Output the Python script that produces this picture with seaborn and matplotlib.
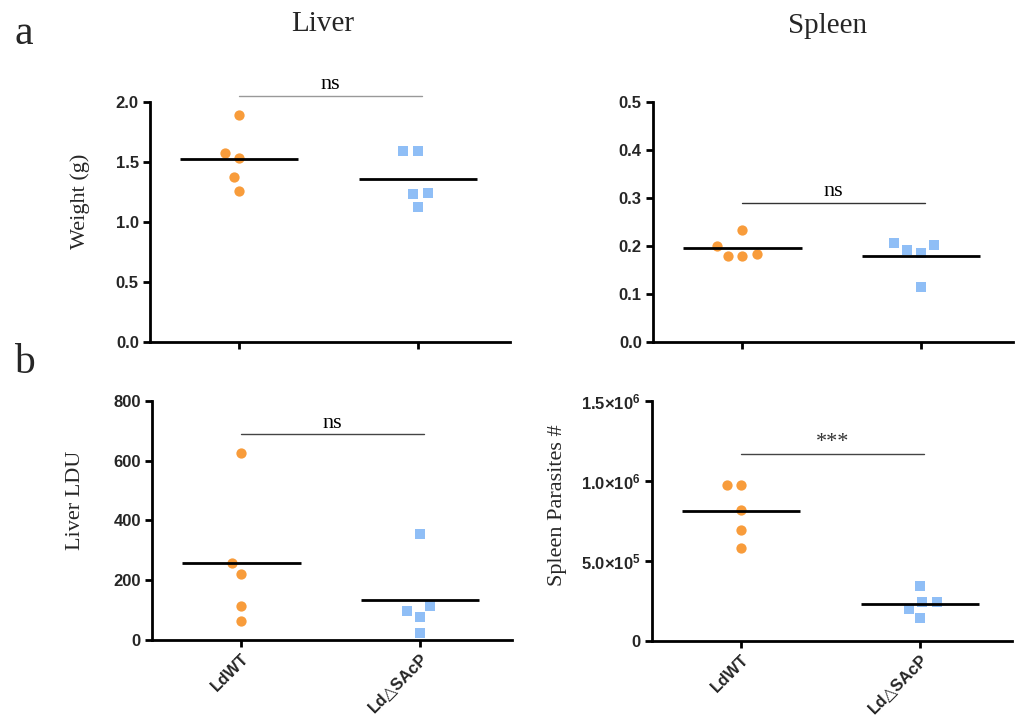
import numpy as np
import pandas as pd
import matplotlib
matplotlib.use("Agg")
import matplotlib.pyplot as plt
import seaborn as sns

sns.set_style("ticks")
plt.rcParams['font.family'] = ['Liberation Sans', 'DejaVu Sans']
plt.rcParams['mathtext.fontset'] = 'custom'
plt.rcParams['mathtext.rm'] = 'Liberation Sans:bold'
plt.rcParams['mathtext.bf'] = 'Liberation Sans:bold'
plt.rcParams['mathtext.it'] = 'Liberation Sans:bold'

groups = ["LdWT", "Ld\u25B3SAcP"]

liver_weight_wt = [1.89, 1.57, 1.53, 1.37, 1.26]
liver_weight_ko = [1.59, 1.59, 1.24, 1.23, 1.12]
spleen_weight_wt = [0.233, 0.183, 0.178, 0.179, 0.200]
spleen_weight_ko = [0.207, 0.191, 0.185, 0.201, 0.114]
liver_ldu_wt = [627, 259, 222, 113, 64]
liver_ldu_ko = [356, 97, 113, 77, 23]
spleen_par_wt = [978000, 978000, 820000, 691000, 580000]
spleen_par_ko = [344000, 242000, 242000, 200000, 142000]

sig_labels = ["ns", "ns", "ns", "***"]

panels = [
    dict(wt=liver_weight_wt, ko=liver_weight_ko, ylim=(0, 2.0), ticks=[0, 0.5, 1.0, 1.5, 2.0],
         ticklabels=["0.0", "0.5", "1.0", "1.5", "2.0"], ylabel="Weight (g)",
         sig=sig_labels[0], sig_y=2.047, sig_color="#999999",
         rect=[0.1476, 0.5217, 0.354, 0.336], xlabels=False, lab_xy=(-0.166, 0.5875)),
    dict(wt=spleen_weight_wt, ko=spleen_weight_ko, ylim=(0, 0.5), ticks=[0, 0.1, 0.2, 0.3, 0.4, 0.5],
         ticklabels=["0.0", "0.1", "0.2", "0.3", "0.4", "0.5"], ylabel=None,
         sig=sig_labels[1], sig_y=0.29, sig_color="#333333",
         rect=[0.6427, 0.5217, 0.354, 0.336], xlabels=False, lab_xy=None),
    dict(wt=liver_ldu_wt, ko=liver_ldu_ko, ylim=(0, 800), ticks=[0, 200, 400, 600, 800],
         ticklabels=["0", "200", "400", "600", "800"], ylabel="Liver LDU",
         sig=sig_labels[2], sig_y=688, sig_color="#444444",
         rect=[0.1496, 0.1049, 0.354, 0.3343], xlabels=True, lab_xy=(-0.186, 0.586)),
    dict(wt=spleen_par_wt, ko=spleen_par_ko, ylim=(0, 1.5e6), ticks=[0, 5e5, 1e6, 1.5e6],
         ticklabels=["0", r"5.0$\times$10$^{5}$", r"1.0$\times$10$^{6}$", r"1.5$\times$10$^{6}$"],
         ylabel="Spleen Parasites #",
         sig=sig_labels[3], sig_y=1.168e6, sig_color="#444444",
         rect=[0.6417, 0.1035, 0.354, 0.3357], xlabels=True, lab_xy=(-0.236, 0.567)),
]

orange = "#F89C3B"
blue = "#8FBEF6"

fig = plt.figure(figsize=(10.16, 7.15), dpi=100)

for p in panels:
    ax = fig.add_axes(p["rect"])
    df_wt = pd.DataFrame({"group": groups[0], "value": p["wt"]})
    df_ko = pd.DataFrame({"group": groups[1], "value": p["ko"]})
    sns.swarmplot(data=df_wt, x="group", y="value", order=groups, ax=ax,
                  color=orange, marker="o", size=7.4, linewidth=2.8,
                  edgecolor=(1, 1, 1, 0), zorder=3)
    sns.swarmplot(data=df_ko, x="group", y="value", order=groups, ax=ax,
                  color=blue, marker="s", size=7.0, linewidth=3.2,
                  edgecolor=(1, 1, 1, 0), zorder=3)
    for i, vals in enumerate([p["wt"], p["ko"]]):
        m = np.mean(vals)
        ax.hlines(m, i - 0.33, i + 0.33, color="black", lw=2.0, zorder=4)
    ax.set_xlim(-0.5, 1.51)
    ax.set_ylim(*p["ylim"])
    ax.set_yticks(p["ticks"])
    ax.set_yticklabels(p["ticklabels"], fontsize=12, fontweight="bold")
    ax.set_xlabel("")
    ax.set_ylabel("")
    ax.set_xticks([0, 1])
    if p["xlabels"]:
        ax.set_xticklabels(groups, rotation=45, ha="right", rotation_mode="anchor",
                           fontsize=12, fontweight="bold")
    else:
        ax.set_xticklabels(["", ""])
    for s in ["top", "right"]:
        ax.spines[s].set_visible(False)
    for s in ["left", "bottom"]:
        ax.spines[s].set_linewidth(2.0)
        ax.spines[s].set_color("black")
    ax.tick_params(axis="both", direction="out", length=5, width=2.0, color="black", pad=3)
    ax.set_facecolor("white")
    # significance bar
    ax.plot([0.0, 1.02], [p["sig_y"], p["sig_y"]], color=p["sig_color"], lw=1.0, clip_on=False)
    yr = p["ylim"][1] - p["ylim"][0]
    ax.text(0.51, p["sig_y"] + yr * 0.008, p["sig"], ha="center", va="bottom",
            fontsize=16, family="Liberation Serif",
            color="#333333" if p["sig"] == "***" else "black", clip_on=False)
    if p["ylabel"]:
        ax.set_ylabel(p["ylabel"], family="Liberation Serif", fontsize=16)
        ax.yaxis.set_label_coords(*p["lab_xy"])

fig.text(0.318, 0.967, "Liver", ha="center", va="center", family="Liberation Serif", fontsize=21)
fig.text(0.815, 0.963, "Spleen", ha="center", va="center", family="Liberation Serif", fontsize=21)
fig.text(0.014, 0.953, "a", ha="left", va="center", family="Liberation Serif", fontsize=30)
fig.text(0.014, 0.493, "b", ha="left", va="center", family="Liberation Serif", fontsize=30)

fig.savefig("out.png", dpi=100, facecolor="white")
